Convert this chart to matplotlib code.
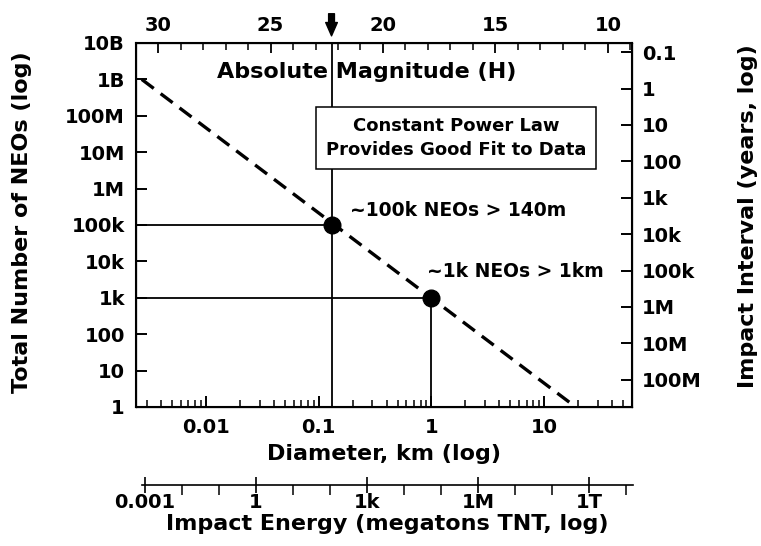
import numpy as np
import matplotlib
matplotlib.use('Agg')
import matplotlib.pyplot as plt
from matplotlib.ticker import NullLocator, FixedLocator, MultipleLocator

plt.rcParams['font.family'] = ['DejaVu Sans']
plt.rcParams['font.weight'] = 'bold'
plt.rcParams['axes.labelweight'] = 'bold'

# power law fit line (diameter km, number of NEOs)
line_diam = [0.0027, 19.0]
line_num = [1e9, 1.0]

# the two highlighted points
pt_diam = [0.13, 1.0]
pt_num = [1e5, 1e3]
pt_text = ['~100k NEOs > 140m', '~1k NEOs > 1km']

num_ticks = [1, 10, 100, 1e3, 1e4, 1e5, 1e6, 1e7, 1e8, 1e9, 1e10]
num_labels = ['1', '10', '100', '1k', '10k', '100k', '1M', '10M', '100M', '1B', '10B']

diam_ticks = [0.01, 0.1, 1, 10]
diam_labels = ['0.01', '0.1', '1', '10']

mag_ticks = [30, 25, 20, 15, 10]

int_ticks = [0.1, 1, 10, 100, 1e3, 1e4, 1e5, 1e6, 1e7, 1e8]
int_labels = ['0.1', '1', '10', '100', '1k', '10k', '100k', '1M', '10M', '100M']

en_ticks = [1e-3, 1, 1e3, 1e6, 1e9]
en_labels = ['0.001', '1', '1k', '1M', '1T']
en_minor = [1e-2, 1e-1, 10, 100, 1e4, 1e5, 1e7, 1e8, 1e10]

W, H = 761, 546
fig = plt.figure(figsize=(W / 100, H / 100), dpi=100)
ax = fig.add_axes([136 / W, 139 / H, 496 / W, 364 / H])

ax.set_xscale('log')
ax.set_yscale('log')
ax.set_xlim(0.0024, 60)
ax.set_ylim(1, 1e10)

# guide lines
ax.plot([pt_diam[0], pt_diam[0]], [1, 1e10], color='k', lw=1.3)
ax.plot([0.0024, pt_diam[0]], [pt_num[0], pt_num[0]], color='k', lw=1.3)
ax.plot([pt_diam[1], pt_diam[1]], [1, pt_num[1]], color='k', lw=1.3)
ax.plot([0.0024, pt_diam[1]], [pt_num[1], pt_num[1]], color='k', lw=1.3)

ax.plot(line_diam, line_num, color='k', lw=2.4, ls=(0, (4.5, 2.6)), solid_capstyle='butt')
ax.plot(pt_diam, pt_num, 'o', color='k', ms=12, zorder=4)

ax.text(0.431, 0.541, pt_text[0], transform=ax.transAxes, fontsize=13.5,
        ha='left', va='center')
ax.text(0.587, 0.371, pt_text[1], transform=ax.transAxes, fontsize=13.5,
        ha='left', va='center')

ax.text(0.466, 0.92, 'Absolute Magnitude (H)', transform=ax.transAxes,
        fontsize=16, ha='center', va='center')
ax.text(0.645, 0.739, 'Constant Power Law\nProvides Good Fit to Data',
        transform=ax.transAxes, fontsize=13, ha='center', va='center',
        linespacing=1.45, zorder=5,
        bbox=dict(boxstyle='square,pad=0.55', fc='white', ec='k', lw=1.1))

ax.set_yticks(num_ticks)
ax.set_yticklabels(num_labels)
ax.yaxis.set_minor_locator(NullLocator())
ax.set_xticks(diam_ticks)
ax.set_xticklabels(diam_labels)
ax.xaxis.set_minor_locator(FixedLocator(
    [m * 10.0 ** e for e in range(-3, 2) for m in range(2, 10)]))
ax.xaxis.set_minor_formatter(plt.NullFormatter())
ax.tick_params(which='major', direction='in', length=8, width=1.4, labelsize=14, pad=8)
ax.tick_params(which='minor', direction='in', length=5, width=1.1)
ax.tick_params(axis='y', right=False)
ax.tick_params(axis='x', top=False)
ax.set_xlabel('Diameter, km (log)', fontsize=16, fontweight='bold', labelpad=5)
for s in ax.spines.values():
    s.set_linewidth(1.5)

# top axis: absolute magnitude
axt = ax.twiny()
axt.set_xlim(30.98, 8.93)
axt.set_xticks(mag_ticks)
axt.xaxis.set_minor_locator(MultipleLocator(1))
axt.tick_params(which='major', direction='in', length=7, width=1.3, labelsize=14, pad=6)
axt.tick_params(which='minor', direction='in', length=5, width=1.1)

# right axis: impact interval
axr = ax.twinx()
axr.set_yscale('log')
axr.set_ylim(10 ** 8.75, 10 ** -1.25)
axr.set_yticks(int_ticks)
axr.set_yticklabels(int_labels)
axr.yaxis.set_minor_locator(NullLocator())
axr.tick_params(which='major', direction='in', length=8, width=1.4, labelsize=14, pad=7)

# arrow above the axis at the 140 m line
ax.annotate('', xy=(pt_diam[0], 1.012), xycoords=('data', 'axes fraction'),
            xytext=(pt_diam[0], 1.088), textcoords=('data', 'axes fraction'),
            arrowprops=dict(arrowstyle='simple,head_width=0.7,head_length=0.8,tail_width=0.35',
                            fc='k', ec='k', mutation_scale=12),
            annotation_clip=False)

# energy axis below
eax = fig.add_axes([142 / W, 61 / H, 491 / W, 0.0005])
eax.patch.set_visible(False)
for k in ['left', 'right', 'top']:
    eax.spines[k].set_visible(False)
eax.spines['bottom'].set_linewidth(1.2)
eax.set_yticks([])
eax.set_xscale('log')
eax.set_xlim(10 ** -3.08, 10 ** 10.19)
eax.set_xticks(en_ticks)
eax.set_xticklabels(en_labels)
eax.xaxis.set_minor_locator(FixedLocator(en_minor))
eax.xaxis.set_minor_formatter(plt.NullFormatter())
eax.tick_params(which='major', direction='inout', length=12, width=1.2, labelsize=14, pad=0)
eax.tick_params(which='minor', direction='out', length=7, width=1.1)
eax.set_xlabel('Impact Energy (megatons TNT, log)', fontsize=16, fontweight='bold', labelpad=1)

fig.text(22 / W, 1 - 222 / H, 'Total Number of NEOs (log)', rotation=90,
         fontsize=16, ha='center', va='center')
fig.text(748 / W, 1 - 216 / H, 'Impact Interval (years, log)', rotation=90,
         fontsize=16, ha='center', va='center')

fig.savefig('out.png', dpi=100)
